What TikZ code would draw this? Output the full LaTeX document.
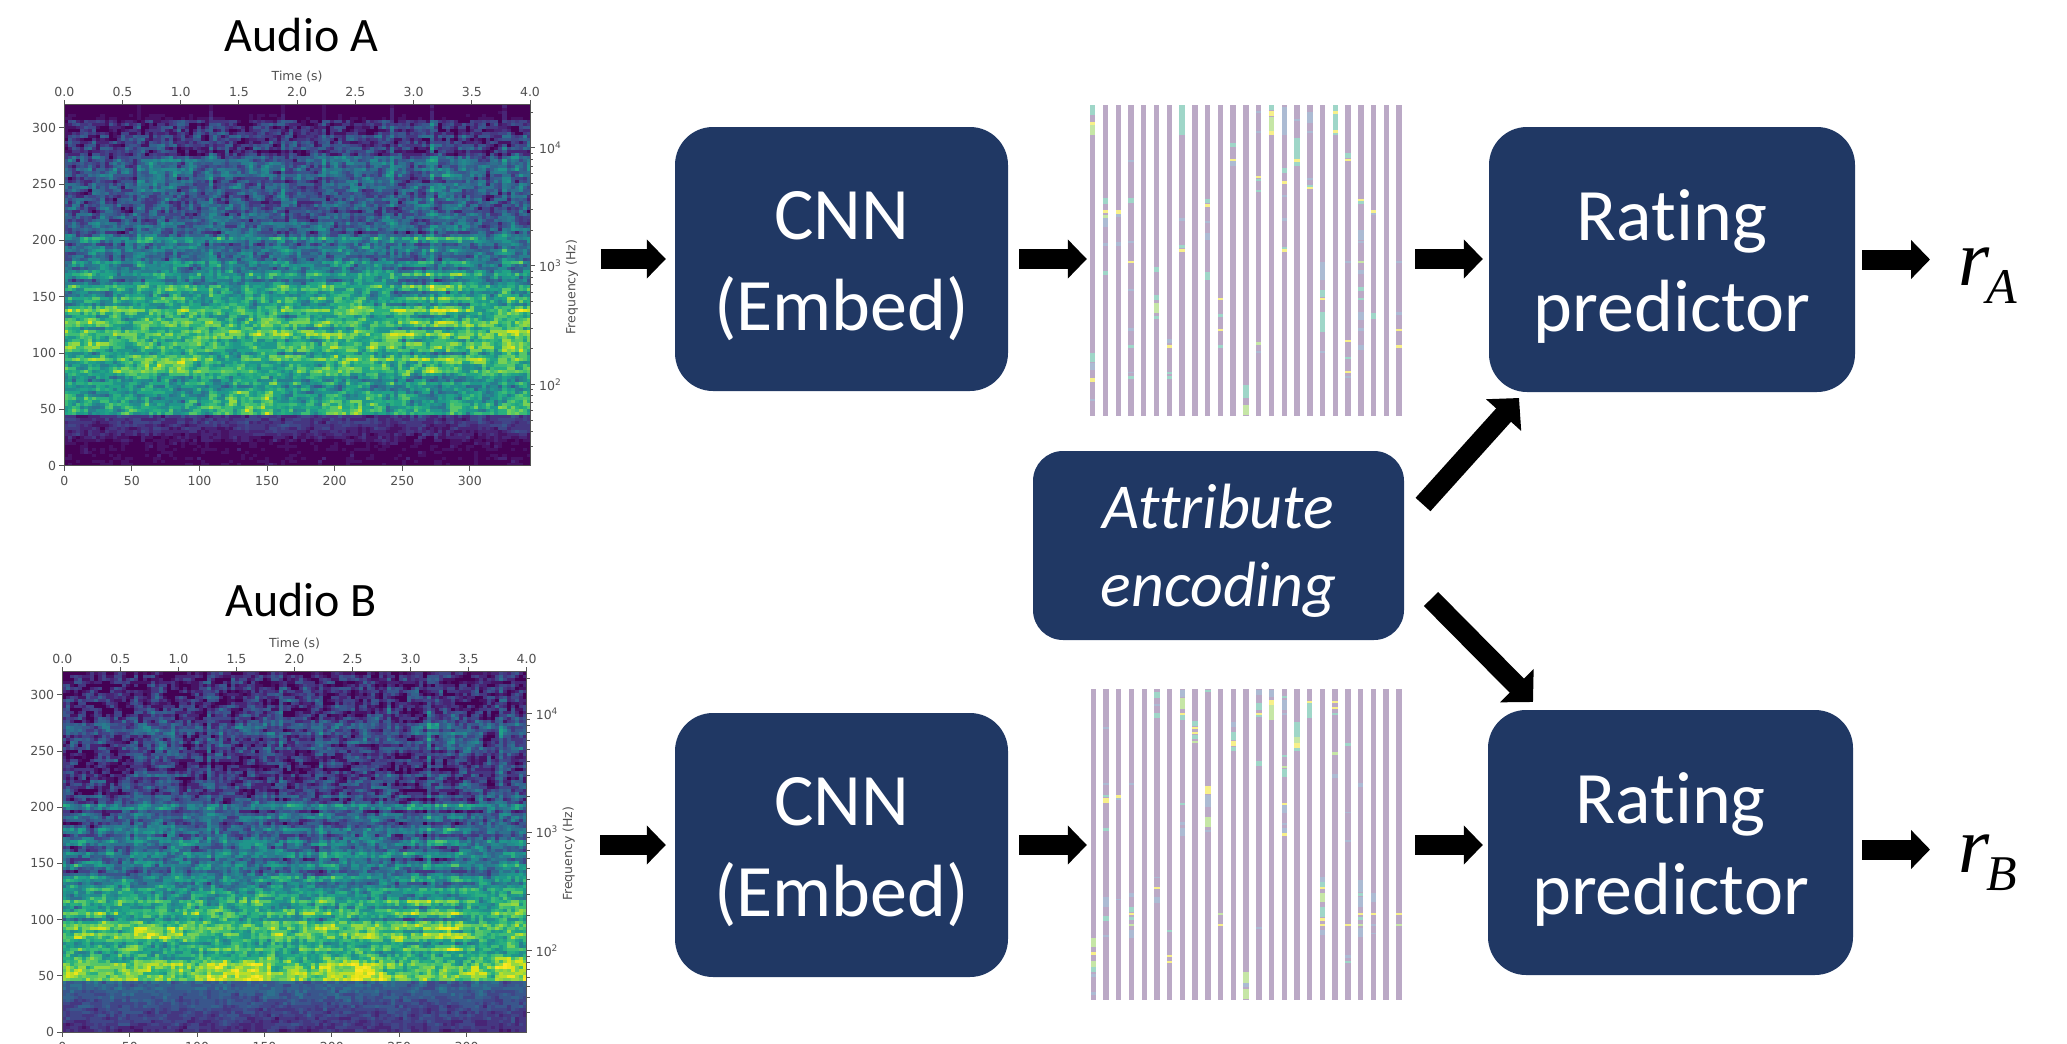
\documentclass[tikz,border=0pt]{standalone}
\usepackage{fontspec}
\setmainfont{Carlito}[Ligatures=NoCommon]
\newfontfamily\dvfont{DejaVu Sans}
\newfontfamily\lsfont{Liberation Serif}
\usetikzlibrary{arrows.meta}
\definecolor{boxblue}{HTML}{203864}
\definecolor{barcol}{HTML}{BBA9C6}
\definecolor{mT}{HTML}{9FD6C8}
\definecolor{mY}{HTML}{F7F08A}
\definecolor{mB}{HTML}{ACBBD3}
\definecolor{mG}{HTML}{C6E6A6}
\definecolor{axcol}{HTML}{555555}
\definecolor{labcol}{HTML}{505050}
\tikzset{
  blockbox/.style={fill=boxblue,text=white,rounded corners=38pt,align=center,inner sep=0pt,
     font=\fontsize{74}{91}\selectfont},
  attrbox/.style={fill=boxblue,text=white,rounded corners=30pt,align=center,inner sep=0pt,
     font=\fontsize{64}{78}\selectfont\itshape},
  blockarrow/.style={line width=20pt,black,-{Triangle[length=19pt,width=38pt]}},
  diagarrow/.style={line width=20pt,black,-{Triangle[length=23pt,width=46pt]}},
  audiolabel/.style={font=\fontsize{48}{48}\selectfont,inner sep=0pt,anchor=base},
  ticklab/.style={font=\dvfont\fontsize{12.5}{13}\selectfont,text=labcol,inner sep=0pt},
  specframe/.style={draw=axcol,line width=1pt,inner sep=0pt},
  axtick/.style={draw=axcol,line width=0.9pt},
  embframe/.style={inner sep=0pt},
  ratelabel/.style={inner sep=0pt,anchor=base west},
}
\makeatletter
\newcount\sgRow \newcount\sgCol \newcount\sgV \newcount\sgI \newcount\sgSeed \newcount\sgTmp
\newcount\sgBase \newcount\sgFrac \newcount\sgStr \newcount\sgM \newcount\sgR \newcount\sgN \newcount\sgPrev
\newcount\sgAmp \newcount\sgOnF \newcount\sgSegF \newcount\sgLowF \newcount\sgMidF \newcount\sgRgtF \newcount\sgK
\newcount\sgSeg \newcount\sgLow \newcount\sgMid \newcount\sgRgt \newcount\sgOn
\newdimen\sgX \newdimen\sgY \newdimen\sgCW \newdimen\sgCH \newdimen\sgXa \newdimen\sgYa \newdimen\sgWo \newdimen\sgHo
\sgSeed=4242
\def\sgrand{%
  \global\sgSeed=\numexpr\sgSeed*3877+29573\relax
  \sgTmp=\sgSeed \divide\sgTmp by 139968 \multiply\sgTmp by 139968
  \global\advance\sgSeed by -\sgTmp
  \sgR=\sgSeed \divide\sgR by 1400 }
\def\sgdefc#1#2{\expandafter\def\csname sgC#1\endcsname{\pgfsys@invoke{#2 rg }}}
\sgdefc{0}{.267 .005 .329}\sgdefc{1}{.278 .075 .396}\sgdefc{2}{.282 .145 .463}
\sgdefc{3}{.271 .216 .506}\sgdefc{4}{.251 .275 .533}\sgdefc{5}{.224 .337 .549}
\sgdefc{6}{.200 .388 .553}\sgdefc{7}{.176 .443 .557}\sgdefc{8}{.157 .490 .557}
\sgdefc{9}{.137 .541 .553}\sgdefc{10}{.122 .588 .545}\sgdefc{11}{.125 .639 .525}
\sgdefc{12}{.161 .686 .498}\sgdefc{13}{.235 .737 .459}\sgdefc{14}{.337 .776 .404}
\sgdefc{15}{.455 .816 .333}\sgdefc{16}{.580 .847 .251}\sgdefc{17}{.722 .871 .161}
\sgdefc{18}{.863 .890 .094}\sgdefc{19}{.930 .900 .110}\sgdefc{20}{.992 .906 .145}
\def\sgsettab#1#2{\foreach \x [count=\k from 0] in {#2}{\expandafter\xdef\csname sgT#1\k\endcsname{\x}}}
\sgsettab{A}{2,2,4,14,17,60,56,48,60,67,58,67,68,62,60,54,50,46,38,34,34,28,26,26,21,26,30,28,13,17,15,4,2}
\sgsettab{B}{14,20,22,27,32,80,76,52,64,72,60,60,58,46,40,38,38,36,29,29,31,22,17,17,11,18,18,26,13,14,14,11,9}
% per-column tables
\def\sginr#1#2#3#4{\ifnum\sgCol>\numexpr#1-1\relax\ifnum\sgCol<#2 #3=#4 \fi\fi}
\sgCol=0 \sgM=8
\loop\ifnum\sgCol<116
  \sgrand \advance\sgM by \numexpr(\sgR-50)/16\relax
  \ifnum\sgM<3 \sgM=3 \fi \ifnum\sgM>14 \sgM=14 \fi
  \sgOn=0 \sgSeg=0 \sgLow=-4 \sgMid=0 \sgRgt=0
  \ifnum\sgCol=9 \sgOn=3 \fi \ifnum\sgCol=18 \sgOn=3 \fi \ifnum\sgCol=36 \sgOn=8 \fi
  \ifnum\sgCol=54 \sgOn=7 \fi \ifnum\sgCol=64 \sgOn=5 \fi \ifnum\sgCol=81 \sgOn=8 \fi
  \ifnum\sgCol=91 \sgOn=9 \fi \ifnum\sgCol=109 \sgOn=7 \fi
  \sginr{18}{28}{\sgSeg}{9}\sginr{36}{54}{\sgSeg}{3}\sginr{64}{81}{\sgSeg}{6}
  \sginr{91}{105}{\sgSeg}{7}\sginr{109}{116}{\sgSeg}{5}
  \sginr{36}{52}{\sgLow}{10}\sginr{64}{80}{\sgLow}{9}\sginr{108}{116}{\sgLow}{10}\sginr{0}{6}{\sgLow}{3}
  \sginr{18}{30}{\sgMid}{12}\sginr{91}{99}{\sgMid}{12}
  \sginr{108}{116}{\sgRgt}{6}
  \expandafter\xdef\csname sgM\the\sgCol\endcsname{\the\sgM}
  \expandafter\xdef\csname sgOn\the\sgCol\endcsname{\the\sgOn}
  \expandafter\xdef\csname sgSg\the\sgCol\endcsname{\the\sgSeg}
  \expandafter\xdef\csname sgLw\the\sgCol\endcsname{\the\sgLow}
  \expandafter\xdef\csname sgMd\the\sgCol\endcsname{\the\sgMid}
  \expandafter\xdef\csname sgRg\the\sgCol\endcsname{\the\sgRgt}
  \expandafter\xdef\csname sgP\the\sgCol\endcsname{0}
  \advance\sgCol by 1
\repeat
\def\sgdraw#1#2#3#4#5{% table, x0, y0, cellw, cellh
  \sgX=#2pt \sgY=#3pt \sgCW=#4pt \sgCH=#5pt
  \sgWo=\dimexpr\sgCW+0.6pt\relax \sgHo=\dimexpr\sgCH+0.6pt\relax
  \sgRow=0
  \loop\ifnum\sgRow<120
   {%
    \sgV=\numexpr(960-(2*\sgRow+1)*4)/3\relax
    \sgK=\sgV \divide\sgK by 10
    \sgFrac=\numexpr\sgV-10*\sgK\relax
    \sgBase=\numexpr(\csname sgT#1\the\sgK\endcsname*(10-\sgFrac)+\csname sgT#1\the\numexpr\sgK+1\relax\endcsname*\sgFrac)/10\relax
    \ifnum\sgV>39 \ifnum\sgV<45 \sgBase=\csname sgT#14\endcsname\relax \fi\fi
    \ifnum\sgV>44 \ifnum\sgV<50 \sgBase=\csname sgT#15\endcsname\relax \fi\fi
    \ifnum\sgV>196 \ifnum\sgV<203 \advance\sgBase by 9 \fi\fi
    % horizontal harmonics
    \sgrand \sgStr=\numexpr(\sgR-50)/10\relax
    \ifnum\sgV<70 \sgStr=0 \fi
    \ifnum\sgV>69 \ifnum\sgV<212
      \sgTmp=\sgRow \divide\sgTmp by 4 \multiply\sgTmp by 4
      \ifcase\numexpr\sgRow-\sgTmp\relax \advance\sgStr by 9 \or \advance\sgStr by 2 \or \advance\sgStr by -9 \or \advance\sgStr by -2 \fi
    \fi\fi
    \ifnum\sgBase<8 \sgAmp=3 \else \sgAmp=20 \fi
    \ifnum\sgV<45 \sgAmp=9 \fi
    \sgOnF=0 \sgSegF=0 \sgLowF=0 \sgMidF=0 \sgRgtF=0
    \ifnum\sgV>149 \sgOnF=10 \sgSegF=1 \fi
    \ifnum\sgV>234 \ifnum\sgV<286 \sgSegF=2 \sgOnF=18 \fi\fi
    \ifnum\sgV>285 \sgSegF=0 \sgOnF=13 \fi
    \ifnum\sgV>45 \ifnum\sgV<67 \sgLowF=1 \fi\fi
    \ifnum\sgV>83 \ifnum\sgV<95 \sgMidF=1 \fi\fi
    \ifnum\sgV>95 \ifnum\sgV<150 \sgRgtF=1 \fi\fi
    \sgYa=\dimexpr-\sgY-\sgCH*\sgRow-\sgHo\relax
    \sgCol=0 \sgPrev=0
    \loop\ifnum\sgCol<116
      \sgrand
      \sgN=\numexpr(\sgR-50)*\sgAmp/50\relax
      \sgI=\numexpr(2*\sgN+\sgPrev+\csname sgP\the\sgCol\endcsname)/3\relax \sgPrev=\sgN
      \expandafter\xdef\csname sgP\the\sgCol\endcsname{\the\sgN}%
      \ifnum\sgV<45 \ifnum\sgR>94 \advance\sgI by -9 \fi\fi
      \advance\sgI by \numexpr\sgBase+\sgStr*\csname sgM\the\sgCol\endcsname/8
        +\csname sgOn\the\sgCol\endcsname*\sgOnF/10
        +\csname sgSg\the\sgCol\endcsname*\sgSegF/2
        +\csname sgLw\the\sgCol\endcsname*\sgLowF
        +\csname sgMd\the\sgCol\endcsname*\sgMidF
        +\csname sgRg\the\sgCol\endcsname*\sgRgtF\relax
      \ifnum\sgI<0 \sgI=0 \fi \ifnum\sgI>100 \sgI=100 \fi
      \divide\sgI by 5
      \csname sgC\the\sgI\endcsname
      \sgXa=\dimexpr\sgX+\sgCW*\sgCol\relax
      \pgfpathrectangle{\pgfqpoint{\sgXa}{\sgYa}}{\pgfqpoint{\sgWo}{\sgHo}}\pgfusepathqfill
      \advance\sgCol by 1
    \repeat
   }%
   \advance\sgRow by 1
  \repeat
}
\makeatother
% axes of one spectrogram: suffix, x0, x1, y0, y1
\newcommand{\specaxes}[5]{%
  \foreach \v [count=\k] in {0,50,100,150,200,250,300}{
    \draw[axtick] ({#2+\v/344.5*(#3-#2)},#5) -- ++(0,5);
    \node[ticklab] (bl#1\k) at ({#2+\v/344.5*(#3-#2)},{#5+15}) {\v};
  }
  \foreach \v [count=\k] in {0.0,0.5,1.0,1.5,2.0,2.5,3.0,3.5,4.0}{
    \draw[axtick] ({#2+\v/4*(#3-#2)},#4) -- ++(0,-5);
    \node[ticklab] (tl#1\k) at ({#2+\v/4*(#3-#2)},{#4-13}) {\v};
  }
  \foreach \v [count=\k] in {0,50,100,150,200,250,300}{
    \draw[axtick] (#2,{#5-\v/320.5*(#5-#4)}) -- ++(-5,0);
    \node[ticklab,anchor=east] (ll#1\k) at ({#2-8},{#5-\v/320.5*(#5-#4)}) {\v};
  }
  \foreach \e in {2,3,4}{
    \draw[axtick] (#3,{#5-81.4-118.4*(\e-2)}) -- ++(5,0);
    \node[ticklab,anchor=west] (rl#1\e) at ({#3+9},{#5-81.4-118.4*(\e-2)}) {10\raisebox{5pt}{\fontsize{9}{9}\selectfont\e}};
  }
  \foreach \l in {0.301,0.477,0.602,0.699,0.778,0.845,0.903,0.954}{
    \foreach \e in {1,2,3,4}{
      \pgfmathsetmacro{\yy}{#5-81.4-118.4*(\e+\l-2)}
      \pgfmathparse{(\yy<#5 && \yy>#4) ? 1 : 0}
      \ifdim\pgfmathresult pt>0.5pt \draw[axtick,line width=.6pt] (#3,\yy) -- ++(3,0); \fi
    }
  }
  \node[ticklab] (tt#1) at ({(#2+#3)/2},{#4-28}) {Time (s)};
  \node[ticklab,rotate=90] (fq#1) at ({#3+42},{(#4+#5)/2+2}) {Frequency (Hz)};
}
% bars of one embedding: x of first bar, spacing, top, bottom
\newcommand{\embbars}[4]{%
  \foreach \i in {0,...,24}{\fill[barcol] ({#1+#2*\i-2.7},#3) rectangle ++(5.4,{#4-#3});}
}
\begin{document}
\begin{tikzpicture}[x=1pt,y=-1pt]
\useasboundingbox (0,0) rectangle (2067,1044);
\clip (0,0) rectangle (2067,1044);

\node[audiolabel] (audioA) at (301.5,51.7) {Audio A};
\node[audiolabel] (audioB) at (301,616) {Audio B};

% spectrogram images
\begin{scope}
  \clip (64.3,104.7) rectangle (530,465.7);
  \sgdraw{A}{64.3}{104.7}{4.02}{3.01}
\end{scope}
\begin{scope}
  \clip (62.4,671.7) rectangle (526.6,1032);
  \sgdraw{B}{62.4}{671.7}{4.005}{3.005}
\end{scope}
\node[specframe,minimum width=465.7pt,minimum height=361pt] (specA) at (297.15,285.2) {};
\node[specframe,minimum width=464.2pt,minimum height=360.3pt] (specB) at (294.5,851.85) {};
\specaxes{A}{64.3}{530}{104.7}{465.7}
\specaxes{B}{62.4}{526.6}{671.7}{1032}

% embeddings
\embbars{1092.7}{12.77}{105}{416}
\foreach \b/\t/\e/\c in {
0/75/105/mT,0/127/135/mY,0/135/165/mG,0/820/845/mT,0/850/870/mB,0/895/905/mY,0/958/964/mB,
1/355/372/mT,1/390/398/mY,1/405/413/mG,1/415/440/mB,1/490/498/mB,1/572/585/mT,
2/390/402/mY,2/403/410/mB,2/485/497/mB,
3/355/370/mT,3/543/549/mY,3/483/489/mB,3/745/752/mB,3/795/803/mT,3/875/880/mB,3/889/896/mT,3/240/246/mB,3/628/633/mB,
5/562/575/mT,5/645/660/mT,5/668/700/mG,5/708/718/mT,
6/796/803/mY,6/778/790/mB,6/875/881/mT,6/889/896/mT,
7/75/165/mT,7/415/422/mB,7/495/505/mT,7/507/515/mY,
9/358/370/mT,9/372/380/mY,9/423/430/mB,9/460/480/mB,9/575/600/mT,
10/653/660/mY,10/703/710/mT,10/746/752/mY,10/796/803/mT,
11/190/200/mT,11/236/244/mY,11/244/258/mB,
12/915/955/mT,12/975/1005/mG,
13/288/295/mY,13/296/302/mT,13/330/337/mT,13/785/795/mG,13/812/820/mB,13/93/99/mB,13/153/158/mB,
14/75/90/mT,14/110/165/mG,14/92/108/mY,14/152/165/mY,
15/80/165/mB,15/265/278/mT,15/304/312/mY,15/345/350/mB,15/415/422/mB,15/500/508/mT,15/508/515/mY,
16/175/258/mT,16/236/245/mY,16/118/123/mB,
17/95/130/mB,17/153/158/mB,17/295/300/mB,17/314/320/mT,17/322/328/mY,
18/545/600/mB,18/630/650/mT,18/653/660/mY,18/695/755/mT,18/812/820/mB,
19/75/165/mT,19/93/103/mY,19/150/160/mY,
20/220/235/mT,20/236/244/mY,20/780/786/mY,20/830/838/mT,20/873/879/mY,20/888/895/mB,20/543/548/mB,
21/357/362/mY,21/362/372/mT,21/450/480/mB,21/484/490/mB,21/543/549/mG,21/570/583/mB,21/622/632/mT,21/653/660/mT,21/695/720/mB,21/745/752/mB,21/795/810/mB,
22/390/398/mY,22/399/404/mB,22/700/718/mT,
24/543/548/mB,24/695/705/mB,24/746/752/mY,24/796/803/mY}{
  \fill[\c] ({1092.7+12.77*\b-2.7},{80+\t/3}) rectangle ++(5.4,{(\e-\t)/3});
}
\embbars{1093.3}{12.73}{689}{1000}
\foreach \b/\t/\e/\c in {
0/805/830/mG,0/847/855/mY,0/872/890/mG,0/890/905/mT,0/912/920/mB,0/965/975/mB,
1/170/176/mB,1/340/346/mB,1/375/382/mT,1/383/398/mY,1/475/482/mT,1/680/710/mB,1/737/752/mT,1/795/800/mB,
2/374/385/mY,2/385/390/mB,2/686/691/mB,
3/340/345/mB,3/670/680/mB,3/712/725/mT,3/728/736/mY,3/740/750/mT,3/763/769/mG,3/780/805/mB,
5/65/85/mT,5/102/107/mB,5/128/143/mT,5/620/625/mB,5/652/658/mY,5/680/700/mB,
6/780/786/mT,6/856/862/mY,6/873/878/mY,
7/60/80/mB,7/85/118/mG,7/128/135/mY,7/135/150/mT,7/400/406/mT,7/455/465/mB,7/475/498/mB,
8/152/168/mT,8/172/178/mY,8/186/192/mY,8/195/208/mT,8/212/218/mG,
9/60/66/mT,9/348/372/mY,9/375/412/mB,9/440/470/mG,9/480/485/mB,
10/728/736/mG,10/762/769/mY,
11/155/170/mB,11/185/210/mT,11/212/228/mY,11/230/243/mT,
12/905/938/mG,12/940/950/mB,12/958/988/mG,
13/60/75/mB,13/100/120/mT,13/128/135/mY,13/136/142/mT,13/272/288/mT,13/772/777/mB,
14/60/80/mB,14/90/105/mY,14/105/150/mG,
15/77/85/mT,15/90/120/mB,15/130/135/mB,15/255/262/mT,15/288/295/mG,15/296/320/mT,15/399/405/mY,15/405/430/mB,15/458/465/mB,15/475/488/mB,15/490/498/mY,
16/155/200/mT,16/200/220/mG,16/220/235/mY,16/235/243/mT,
17/93/100/mY,17/100/145/mT,
18/620/635/mB,18/636/650/mT,18/652/658/mY,18/668/695/mG,18/712/740/mT,18/745/752/mY,18/762/769/mY,18/780/795/mB,
19/94/100/mY,19/110/118/mY,19/130/136/mT,19/246/255/mG,19/312/325/mB,
20/220/228/mT,20/425/430/mB,20/510/515/mB,20/762/769/mY,20/855/865/mB,20/873/878/mT,
21/340/350/mB,21/630/665/mB,21/670/678/mT,21/680/710/mB,21/728/736/mY,21/740/750/mT,21/763/769/mG,21/775/800/mB,
22/670/695/mB,22/728/736/mY,22/763/768/mB,22/788/793/mB,
24/728/736/mY,24/763/769/mG}{
  \fill[\c] ({1093.3+12.73*\b-2.7},{670+\t/3}) rectangle ++(5.4,{(\e-\t)/3});
}
\node[embframe,minimum width=312pt,minimum height=311pt] (embA) at (1246,260.5) {};
\node[embframe,minimum width=312pt,minimum height=311pt] (embB) at (1246,844.5) {};

% boxes
\node[blockbox,minimum width=333pt,minimum height=264pt] (cnnA) at (841.5,259) {\rule{0pt}{62pt}CNN\\(Embed)};
\node[blockbox,minimum width=333pt,minimum height=264pt] (cnnB) at (841.5,845) {\rule{0pt}{62pt}CNN\\(Embed)};
\node[blockbox,minimum width=366pt,minimum height=265pt] (ratA) at (1672,259.5) {\rule{0pt}{64pt}Rating\\predictor};
\node[blockbox,minimum width=365pt,minimum height=265pt] (ratB) at (1670.5,842.5) {\rule{0pt}{64pt}Rating\\predictor};
\node[attrbox,minimum width=371pt,minimum height=189pt] (attr) at (1218.5,545.5) {\rule{0pt}{54pt}Attribute\\encoding};

% outputs
\node[ratelabel] (rA) at (1958,285) {\fontsize{80}{80}\selectfont\lsfont\itshape r\hspace{-3pt}\lower18pt\hbox{\fontsize{50}{50}\selectfont A}};
\node[ratelabel] (rB) at (1958,872) {\fontsize{80}{80}\selectfont\lsfont\itshape r\hspace{-3pt}\lower18pt\hbox{\fontsize{50}{50}\selectfont B}};
\coordinate (rBin) at (1930,849.5);

% connectors
\draw[blockarrow,shorten <=70pt,shorten >=9pt] (specA.east |- cnnA) -- (cnnA.west);
\draw[blockarrow,shorten <=11pt,shorten >=3pt] (cnnA.east) -- (embA.west |- cnnA);
\draw[blockarrow,shorten <=13pt,shorten >=6pt] (embA.east |- cnnA) -- (ratA.west |- cnnA);
\draw[blockarrow,shorten <=7pt,shorten >=28pt] (ratA.east) -- (rA.west |- ratA);
\draw[blockarrow,shorten <=73pt,shorten >=9pt] (specB.east |- cnnB) -- (cnnB.west);
\draw[blockarrow,shorten <=11pt,shorten >=3pt] (cnnB.east) -- (embB.west |- cnnB);
\draw[blockarrow,shorten <=13pt,shorten >=5pt] (embB.east |- cnnB) -- (ratB.west |- cnnB);
\draw[blockarrow,shorten <=9pt] (ratB.east |- rBin) -- (rBin);
\coordinate (attrA) at (1423,504.5);
\coordinate (ratAin) at (1519,398);
\coordinate (attrB) at (1431,599);
\coordinate (ratBin) at (1533,702);
\draw[diagarrow] (attrA) -- (ratAin);
\draw[diagarrow] (attrB) -- (ratBin);
\end{tikzpicture}
\end{document}
